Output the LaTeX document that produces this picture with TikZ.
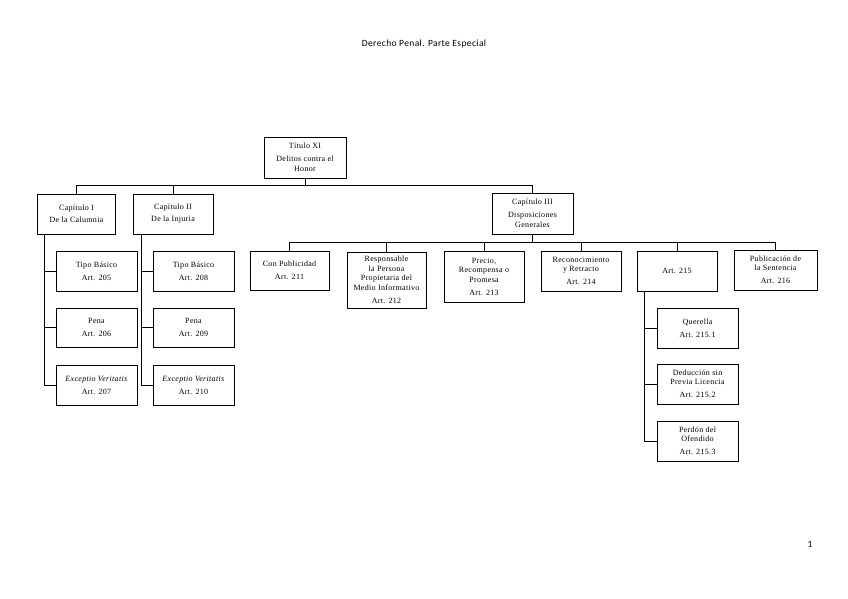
\documentclass[tikz,border=0pt]{standalone}
\usepackage{fontspec}
\setmainfont{Liberation Serif}
\newfontfamily\hdrfont[LetterSpace=4]{Carlito}
\newfontfamily\boxfam[LetterSpace=4]{Liberation Serif}
\tikzset{
  box/.style={draw, line width=1pt, minimum width=80pt, minimum height=40pt,
    align=center, inner sep=1pt, font=\boxfam\fontsize{8}{9.5}\selectfont},
  conn/.style={line width=1pt},
  hdr/.style={font=\hdrfont\fontsize{9.5}{11}\selectfont, inner sep=0pt}
}
\begin{document}
\begin{tikzpicture}[x=1pt,y=-1pt]
\fill[white] (0,0) rectangle (848,599);
\useasboundingbox (0,0) rectangle (848,599);

\node[hdr] (head) at (424,44) {Derecho Penal. Parte Especial};
\node[hdr] (page) at (810,544) {1};

% level 0
\node[box, minimum width=82pt, minimum height=41pt] (titulo) at (305,157.5) {Título XI\\[3.5pt]Delitos contra el\\Honor};

% level 1
\node[box, minimum width=78pt] (capI) at (76.5,214) {Capítulo I\\[2.5pt]De la Calumnia};
\node[box] (capII) at (173,214) {Capítulo II\\[2.5pt]De la Injuria};
\node[box, minimum width=81pt, minimum height=41pt] (capIII) at (532.5,213.5) {Capítulo III\\[3.5pt]Disposiciones\\Generales};

% children of Cap I
\node[box, minimum width=81pt] (t205) at (96.5,271) {Tipo Básico\\[3.5pt]Art. 205};
\node[box, minimum width=81pt, minimum height=39pt] (p206) at (96.5,327.5) {Pena\\[3.5pt]Art. 206};
\node[box, minimum width=81pt] (e207) at (96.5,385) {\textit{Exceptio Veritatis}\\[3.5pt]Art. 207};

% children of Cap II
\node[box, minimum width=81pt] (t208) at (193.5,271) {Tipo Básico\\[3.5pt]Art. 208};
\node[box, minimum width=81pt, minimum height=39pt] (p209) at (193.5,327.5) {Pena\\[3.5pt]Art. 209};
\node[box, minimum width=81pt] (e210) at (193.5,385) {\textit{Exceptio Veritatis}\\[3.5pt]Art. 210};

% children of Cap III
\node[box, minimum width=79pt, minimum height=39pt] (conpub) at (289.5,270.5) {Con Publicidad\\[3.5pt]Art. 211};
\node[box, minimum width=79pt, minimum height=56pt] (resp) at (386.5,280) {Responsable\\la Persona\\Propietaria del\\Medio Informativo\\[3.5pt]Art. 212};
\node[box, minimum height=51pt] (precio) at (484,276.5) {Precio,\\Recompensa o\\Promesa\\[3.5pt]Art. 213};
\node[box] (recon) at (581,271) {Reconocimiento\\y Retracto\\[3.5pt]Art. 214};
\node[box] (art215) at (677,271) {Art. 215};
\node[box, minimum width=83pt] (publ) at (775.5,270) {Publicación de\\la Sentencia\\[3.5pt]Art. 216};

% children of Art 215
\node[box, minimum width=81pt] (quer) at (697.5,328) {Querella\\[3.5pt]Art. 215.1};
\node[box, minimum width=81pt] (deduc) at (697.5,384) {Deducción sin\\Previa Licencia\\[3.5pt]Art. 215.2};
\node[box, minimum width=81pt] (perdon) at (697.5,441) {Perdón del\\Ofendido\\[3.5pt]Art. 215.3};

% connectors
\coordinate (b1) at (305,185.5);
\coordinate (b2) at (532.5,242);
\draw[conn] (titulo.south) -- (b1);
\draw[conn] (capI.north) |- (b1);
\draw[conn] (capII.north) |- (b1);
\draw[conn] (capIII.north) |- (b1);

\draw[conn] (capIII.south) -- (b2);
\foreach \n in {conpub,resp,precio,recon,art215,publ}
  \draw[conn] (\n.north) |- (b2);

\foreach \n in {t205,p206,e207}
  \draw[conn] ([xshift=7pt]capI.south west) |- (\n.west);
\foreach \n in {t208,p209,e210}
  \draw[conn] ([xshift=8.5pt]capII.south west) |- (\n.west);
\foreach \n in {quer,deduc,perdon}
  \draw[conn] ([xshift=8pt]art215.south west) |- (\n.west);
\end{tikzpicture}
\end{document}
